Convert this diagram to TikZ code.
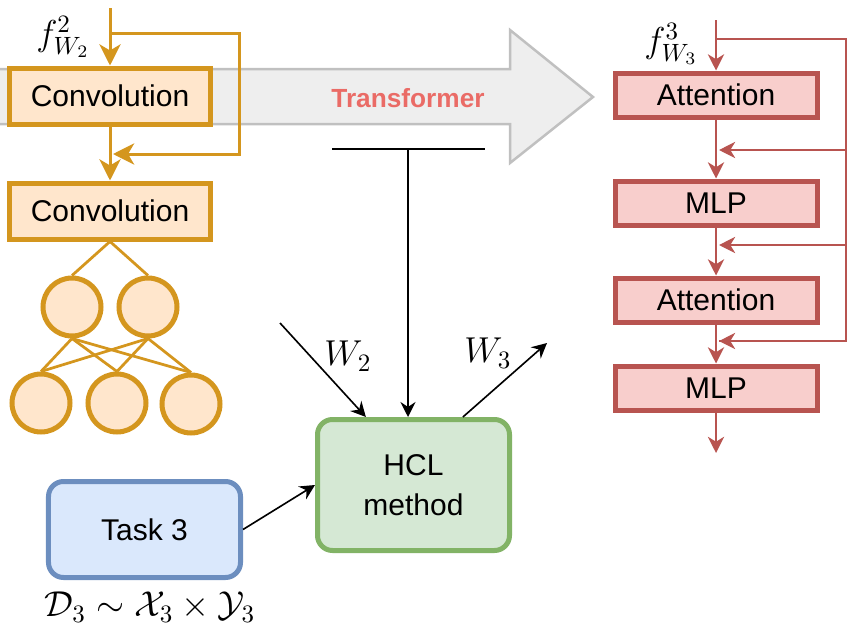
\documentclass[tikz,border=0pt]{standalone}
\usepackage{fontspec}
\setmainfont{Liberation Sans}
\usetikzlibrary{arrows.meta}
\definecolor{convfill}{HTML}{FFE6CC}
\definecolor{convline}{HTML}{D4961E}
\definecolor{attfill}{HTML}{F8CECC}
\definecolor{attline}{HTML}{B85450}
\definecolor{hclfill}{HTML}{D5E8D4}
\definecolor{hclline}{HTML}{82B366}
\definecolor{taskfill}{HTML}{DAE8FC}
\definecolor{taskline}{HTML}{6C8EBF}
\definecolor{bigfill}{HTML}{EEEEEE}
\definecolor{bigline}{HTML}{C0C0C0}
\definecolor{transred}{HTML}{EA6B66}
\tikzset{
  txt/.style={font=\fontsize{12}{16}\selectfont},
  mathlbl/.style={font=\Large, inner sep=0pt},
  convbox/.style={txt, draw=convline, fill=convfill, line width=2pt, minimum width=80.4pt, minimum height=22.4pt, inner sep=0pt},
  neuron/.style={circle, draw=convline, fill=convfill, line width=2pt, minimum size=23.2pt, inner sep=0pt},
  attbox/.style={txt, draw=attline, fill=attfill, line width=2pt, minimum width=80.8pt, minimum height=17.6pt, inner sep=0pt},
  roundbox/.style={txt, rounded corners=6pt, line width=2pt, minimum width=76.8pt, inner sep=0pt, align=center},
  orangearr/.style={convline, line width=1.2pt, -{Stealth[length=8.5pt,width=8.5pt,inset=2.5pt]}},
  redarr/.style={attline, line width=0.8pt, -{Stealth[length=6.5pt,width=6.5pt,inset=2pt]}},
  redthin/.style={attline, line width=0.5pt},
  blackarr/.style={line width=0.65pt, -{Stealth[length=6pt,width=6pt,inset=2pt]}},
}
\begin{document}
\begin{tikzpicture}[x=0.4pt, y=-0.4pt]
\useasboundingbox (0,0) rectangle (859,640);

% transformer arrow
\draw[bigline, fill=bigfill, line width=1pt] (-20,69) -- (510,69) -- (510,30) -- (593,97) -- (510,163) -- (510,124) -- (-20,124) -- cycle;
\node[font=\bfseries\fontsize{10.5}{12}\selectfont, text=transred] (trans) at (408,98) {Transformer};

% convolution branch
\node[convbox] (conva) at (110,96) {Convolution};
\node[convbox] (convb) at (110,211) {Convolution};
\node[neuron] (h1) at (72,307) {};
\node[neuron] (h2) at (148,307) {};
\node[neuron] (o1) at (41,403) {};
\node[neuron] (o2) at (117,403) {};
\node[neuron] (o3) at (191,404) {};
\node[mathlbl] (fa) at (63,37) {$f^2_{W_2}$};

\coordinate (cin) at (110,8);
\coordinate (cskip) at (110,33);
\coordinate (cback) at (113,154);
\draw[orangearr] (cin) -- (conva);
\draw[orangearr] (conva) -- (convb);
\draw[orangearr] (cskip) -- ++(129,0) |- (cback);
\foreach \h in {h1,h2}{
  \draw[convline, line width=1.1pt] (convb.south) -- (\h.north);
  \foreach \o in {o1,o2,o3}
    \draw[convline, line width=1.1pt] (\h.south) -- (\o.north);
}

% attention branch
\node[attbox] (att1) at (716,95) {Attention};
\node[attbox] (mlp1) at (716,203) {MLP};
\node[attbox] (att2) at (716,300) {Attention};
\node[attbox] (mlp2) at (716,388) {MLP};
\node[mathlbl] (fb) at (671,44) {$f^3_{W_3}$};

\coordinate (rin) at (716,20);
\coordinate (rout) at (716,453);
\coordinate (rskip) at (716,39);
\coordinate (rail) at (846,39);
\foreach \y [count=\i] in {150,245,341}
  \coordinate (back\i) at (719,\y);
\draw[redarr] (rin) -- (att1);
\foreach \a/\b in {att1/mlp1, mlp1/att2, att2/mlp2}
  \draw[redarr] (\a) -- (\b);
\draw[redarr] (mlp2) -- (rout);
\draw[redthin] (rskip) -- (rail) |- (back3);
\foreach \i in {1,2,3}
  \draw[redthin, -{Stealth[length=6.5pt,width=6.5pt,inset=2pt]}] (back\i -| rail) -- (back\i);

% method
\node[roundbox, draw=hclline, fill=hclfill, minimum height=52.4pt] (hcl) at (413.5,485) {HCL\\method};
\node[roundbox, draw=taskline, fill=taskfill, minimum height=38.4pt] (task) at (144.5,529.5) {Task 3};
\node[mathlbl] (data) at (150,607) {$\mathcal{D}_3 \sim \mathcal{X}_3 \times \mathcal{Y}_3$};
\node[mathlbl] (w2) at (348,356) {$W_2$};
\node[mathlbl] (w3) at (488,353) {$W_3$};

\coordinate (tl) at (332,149);
\coordinate (tr) at (485,149);
\coordinate (tmid) at (408,149);
\coordinate (w2in) at (280,323);
\coordinate (w3out) at (547,343);
\draw[line width=0.65pt] (tl) -- (tr);
\draw[blackarr] (tmid) -- (tmid |- hcl.north);
\draw[blackarr] (w2in) -- (hcl.125.5);
\draw[blackarr] (hcl.54.5) -- (w3out);
\draw[blackarr] (task.east) -- (hcl.west);
\end{tikzpicture}
\end{document}
